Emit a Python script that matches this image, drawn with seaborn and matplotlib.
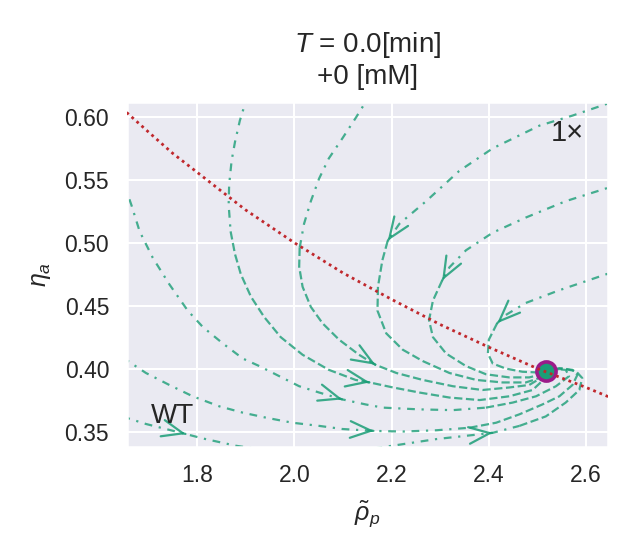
import matplotlib
matplotlib.use("Agg")
import matplotlib.pyplot as plt
import seaborn as sns

# nullcline
nullcline_rho = [1.645, 1.70, 1.75, 1.80, 1.90, 2.00, 2.10, 2.20, 2.30, 2.40, 2.50, 2.60, 2.65]
nullcline_eta = [0.607, 0.588, 0.571, 0.556, 0.526, 0.500, 0.476, 0.455, 0.435, 0.417, 0.400, 0.385, 0.377]

# stable fixed point
fixed_rho = 2.517
fixed_eta = 0.398

# trajectories
traj1_rho = [1.904, 1.888, 1.878, 1.871, 1.866, 1.865, 1.869, 1.878, 1.890, 1.911, 1.938, 1.972,
             2.017, 2.071, 2.126, 2.155, 2.203, 2.257, 2.319, 2.381, 2.442, 2.490, 2.512, 2.517]
traj1_eta = [0.617, 0.597, 0.580, 0.565, 0.546, 0.530, 0.509, 0.491, 0.475, 0.457, 0.441, 0.425,
             0.411, 0.399, 0.391, 0.389, 0.385, 0.381, 0.377, 0.375, 0.378, 0.383, 0.391, 0.398]

traj2_rho = [2.157, 2.147, 2.126, 2.099, 2.071, 2.051, 2.034, 2.020, 2.011, 2.010, 2.017, 2.034,
             2.058, 2.092, 2.133, 2.167, 2.210, 2.264, 2.326, 2.387, 2.442, 2.483, 2.509, 2.517]
traj2_eta = [0.618, 0.612, 0.599, 0.583, 0.567, 0.551, 0.533, 0.515, 0.496, 0.481, 0.465, 0.449,
             0.436, 0.423, 0.411, 0.403, 0.3965, 0.391, 0.386, 0.383, 0.385, 0.387, 0.393, 0.398]

traj3_rho = [2.671, 2.644, 2.572, 2.504, 2.408, 2.339, 2.271, 2.216, 2.192, 2.181, 2.172, 2.171,
             2.189, 2.223, 2.264, 2.319, 2.374, 2.428, 2.476, 2.504, 2.517]
traj3_eta = [0.614, 0.6105, 0.601, 0.593, 0.575, 0.557, 0.533, 0.515, 0.5015, 0.486, 0.465, 0.446,
             0.428, 0.415, 0.406, 0.3965, 0.391, 0.389, 0.389, 0.3925, 0.398]

traj4_rho = [2.671, 2.644, 2.558, 2.476, 2.408, 2.353, 2.319, 2.304, 2.285, 2.277, 2.285, 2.312,
             2.353, 2.394, 2.442, 2.483, 2.504, 2.517]
traj4_eta = [0.547, 0.5435, 0.533, 0.520, 0.508, 0.494, 0.4805, 0.470, 0.454, 0.4385, 0.425, 0.412,
             0.402, 0.3955, 0.393, 0.393, 0.395, 0.398]

traj5_rho = [2.671, 2.644, 2.543, 2.475, 2.434, 2.417, 2.400, 2.398, 2.408, 2.435, 2.469, 2.497, 2.517]
traj5_eta = [0.480, 0.4753, 0.462, 0.452, 0.4424, 0.436, 0.423, 0.412, 0.404, 0.400, 0.3975, 0.397, 0.398]

traj6_rho = [1.645, 1.665, 1.682, 1.709, 1.743, 1.781, 1.812, 1.853, 1.894, 1.928, 1.969, 2.010,
             2.051, 2.099, 2.147, 2.182, 2.257, 2.326, 2.394, 2.449, 2.497, 2.538, 2.565, 2.558,
             2.538, 2.517]
traj6_eta = [0.552, 0.530, 0.509, 0.488, 0.467, 0.446, 0.433, 0.420, 0.408, 0.402, 0.394, 0.386,
             0.381, 0.3755, 0.3715, 0.369, 0.3676, 0.367, 0.369, 0.373, 0.378, 0.386, 0.394, 0.399,
             0.3996, 0.398]

traj7_rho = [1.647, 1.654, 1.695, 1.743, 1.791, 1.846, 1.894, 1.942, 1.996, 2.051, 2.099, 2.164,
             2.223, 2.292, 2.360, 2.415, 2.463, 2.510, 2.545, 2.572, 2.582, 2.572, 2.545, 2.517]
traj7_eta = [0.409, 0.407, 0.3965, 0.387, 0.378, 0.370, 0.365, 0.361, 0.357, 0.3545, 0.352, 0.3505,
             0.350, 0.351, 0.353, 0.357, 0.3637, 0.3715, 0.378, 0.387, 0.395, 0.399, 0.4004, 0.398]

traj8_rho = [1.647, 1.654, 1.695, 1.736, 1.777, 1.812, 1.880, 1.962, 2.051, 2.133, 2.210, 2.292,
             2.353, 2.408, 2.463, 2.517, 2.558, 2.586, 2.592, 2.579, 2.551, 2.517]
traj8_eta = [0.3623, 0.361, 0.356, 0.352, 0.348, 0.3445, 0.3387, 0.334, 0.332, 0.3348, 0.3392, 0.344,
             0.3466, 0.349, 0.3545, 0.362, 0.373, 0.383, 0.3925, 0.398, 0.400, 0.398]

title_text = "$T$ = 0.0[min]\n+0 [mM]"
strain_label = "WT"
dose_label = "1×"

# style / drawing config
green = "#1b9e77"
red = "#c0282d"
trajectories = [
    (traj1_rho, traj1_eta), (traj2_rho, traj2_eta), (traj3_rho, traj3_eta), (traj4_rho, traj4_eta),
    (traj5_rho, traj5_eta), (traj6_rho, traj6_eta), (traj7_rho, traj7_eta), (traj8_rho, traj8_eta),
]
split_at = [6, 8, 8, 7, 5, 18, 14, 14]          # dash-dot before, dashed after
arrows_at = [[15], [15], [8], [7], [5], [13], [11], [4, 13]]

sns.set_theme(style="darkgrid", context="talk")
plt.rcParams["font.family"] = ["Liberation Sans", "DejaVu Sans"]
plt.rcParams["mathtext.fontset"] = "custom"
plt.rcParams["mathtext.rm"] = "Liberation Sans"
plt.rcParams["mathtext.it"] = "Liberation Sans:italic"

fig, ax = plt.subplots(figsize=(6.39, 5.59), dpi=100)
fig.subplots_adjust(left=0.198, right=0.9515, bottom=0.201, top=0.818)

dashdot = (0, (3.5, 3, 1, 3))
for (rho, eta), k, arr in zip(trajectories, split_at, arrows_at):
    sns.lineplot(x=rho[:k + 1], y=eta[:k + 1], sort=False, estimator=None, ax=ax,
                 color=green, alpha=0.8, lw=1.6, linestyle=dashdot, zorder=2)
    sns.lineplot(x=rho[k:], y=eta[k:], sort=False, estimator=None, ax=ax,
                 color=green, alpha=0.8, lw=1.6, linestyle="--", zorder=2)
    for i in arr:
        tail = (rho[i] - 0.02 * (rho[i] - rho[i - 1]), eta[i] - 0.02 * (eta[i] - eta[i - 1]))
        ax.annotate("", xy=(rho[i], eta[i]), xytext=tail,
                    arrowprops=dict(arrowstyle="->,head_length=0.75,head_width=0.3",
                                    color=green, alpha=0.85, lw=1.6, mutation_scale=20,
                                    shrinkA=0, shrinkB=0), zorder=2)

sns.scatterplot(x=[fixed_rho], y=[fixed_eta], s=190, color=green, edgecolor="#9b1b8a",
                linewidth=2.6, ax=ax, zorder=3)

sns.lineplot(x=nullcline_rho, y=nullcline_eta, sort=False, estimator=None, ax=ax,
             color=red, lw=2, linestyle=(0, (1, 1.4)), zorder=4)

ax.text(0.95, 0.95, dose_label, transform=ax.transAxes, ha="right", va="top", fontsize=21)
ax.text(0.05, 0.05, strain_label, transform=ax.transAxes, ha="left", va="bottom", fontsize=20)

ax.set_xlim(1.655, 2.645)
ax.set_ylim(0.338, 0.612)
ax.set_xticks([1.8, 2.0, 2.2, 2.4, 2.6])
ax.set_yticks([0.35, 0.40, 0.45, 0.50, 0.55, 0.60])
ax.set_xlabel(r"$\tilde{\rho}_p$", labelpad=8)
ax.set_ylabel(r"$\eta_a$", labelpad=8)
ax.set_title(title_text, fontsize=20, pad=13)

fig.savefig("out.png", dpi=100)
